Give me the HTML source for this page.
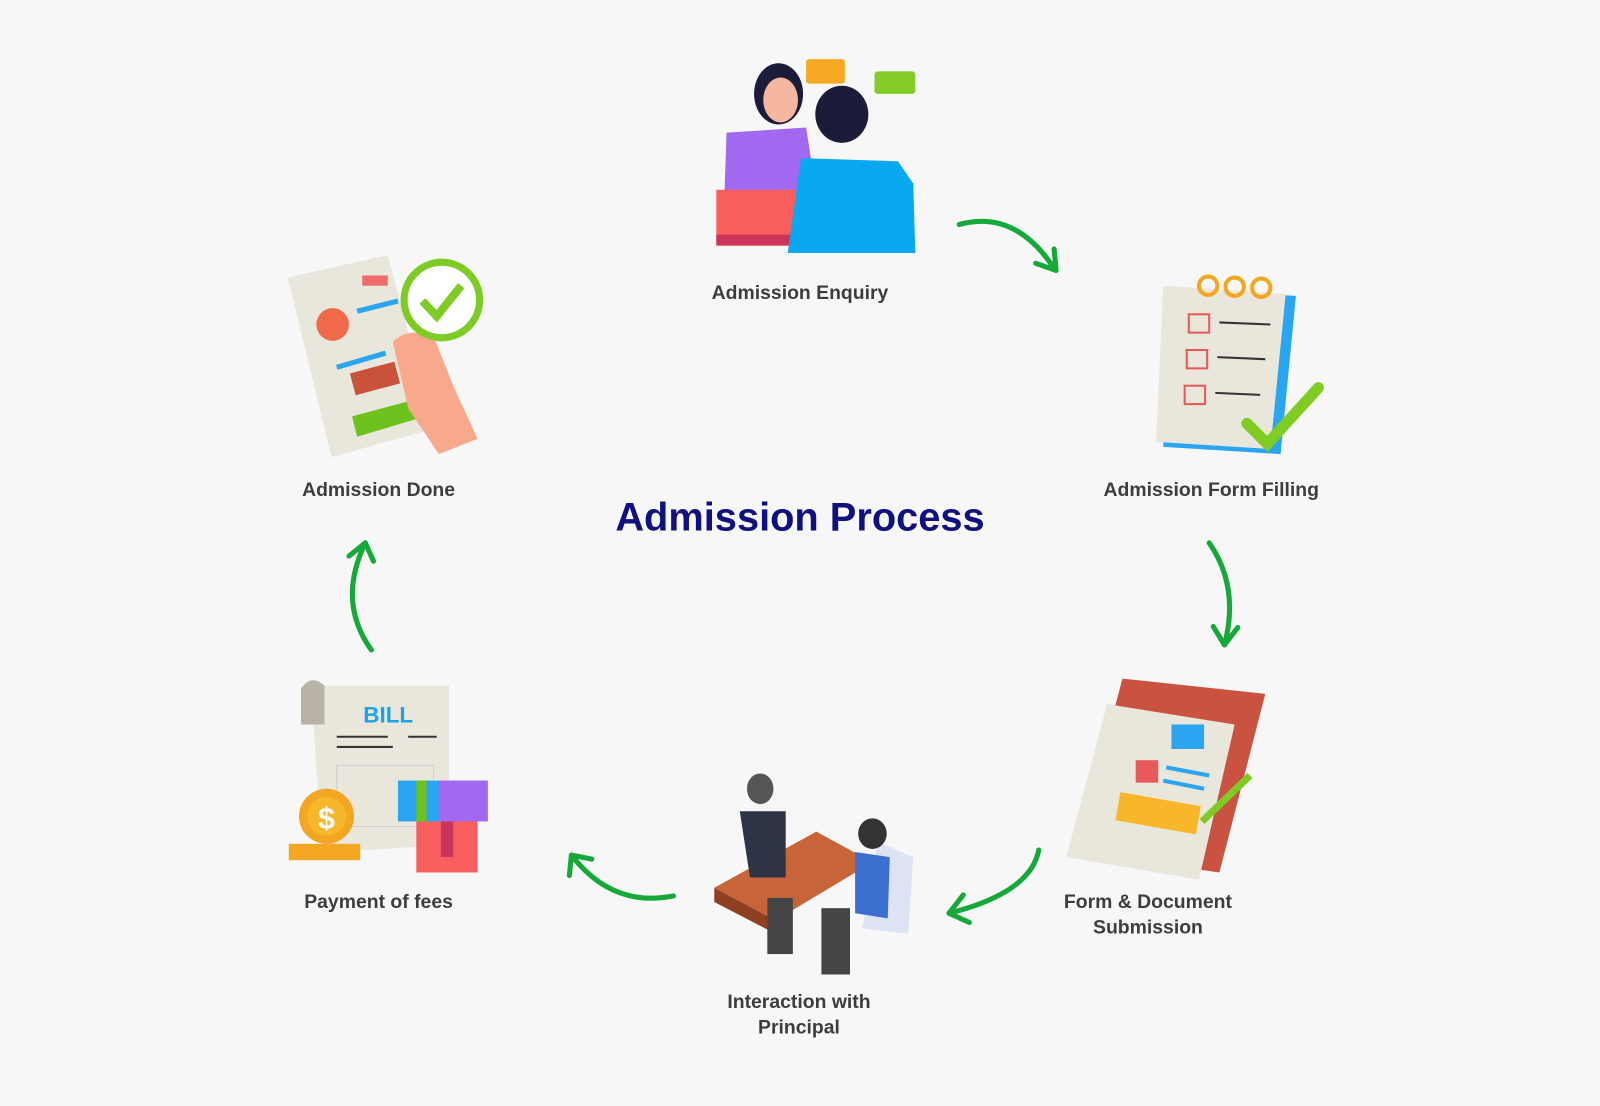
<!DOCTYPE html>
<html><head><meta charset="utf-8"><style>
html,body{margin:0;padding:0;background:#f7f7f7;}
#w{width:1600px;height:1106px;overflow:hidden;background:#f7f7f7;}
#c{position:relative;width:1568px;height:1084px;transform:scale(1.0204);transform-origin:0 0;font-family:"Liberation Sans",sans-serif;}
.l{position:absolute;font-weight:bold;font-size:19px;color:#3d3d3d;text-align:center;line-height:25px;transform:translateX(-50%);white-space:nowrap;}
#t{position:absolute;left:784px;top:486px;transform:translateX(-50%);font-weight:bold;font-size:39px;color:#10107e;white-space:nowrap;}
svg{position:absolute;left:0;top:0;}
</style></head><body><div id="w"><div id="c">
<svg width="1568" height="1084" viewBox="0 0 1568 1084">
<g fill="none" stroke="#17a83a" stroke-width="5" stroke-linecap="round" stroke-linejoin="round">
<path d="M940 220 Q995 205 1033 263"/><path d="M1015 258 L1035 265 L1033 244"/>
<path d="M1185 532 Q1215 575 1200 632"/><path d="M1189 614 L1200 632 L1213 615"/>
<path d="M1018 833 Q1010 875 930 895"/><path d="M944 877 L930 895 L950 904"/>
<path d="M660 878 Q600 890 560 838"/><path d="M558 858 L560 838 L580 842"/>
<path d="M364 637 Q330 590 358 532"/><path d="M342 545 L358 532 L366 550"/>
</g>
<rect x="790" y="58" width="38" height="24" rx="3" fill="#f7a823"/>
<rect x="857" y="70" width="40" height="22" rx="3" fill="#83cc2a"/>
<ellipse cx="763" cy="92" rx="24" ry="30" fill="#1b1b3a"/>
<ellipse cx="765" cy="98" rx="17" ry="22" fill="#f6b7a0"/>
<path d="M712 130 L790 125 L800 190 L710 190 Z" fill="#a368f0"/>
<rect x="702" y="186" width="78" height="55" fill="#f85e5e"/>
<rect x="702" y="230" width="78" height="10" fill="#c9355b"/>
<ellipse cx="825" cy="112" rx="26" ry="28" fill="#1b1b3a"/>
<path d="M785 155 L880 158 L895 180 L897 248 L772 248 Z" fill="#0aa8f0"/>
<path d="M1146 283 L1270 290 L1255 445 L1140 438 Z" fill="#2aa5f0"/>
<path d="M1140 280 L1260 288 L1245 440 L1133 433 Z" fill="#e9e6dc"/>
<circle cx="1184" cy="280" r="9" fill="none" stroke="#f3a622" stroke-width="4"/>
<circle cx="1210" cy="281" r="9" fill="none" stroke="#f3a622" stroke-width="4"/>
<circle cx="1236" cy="282" r="9" fill="none" stroke="#f3a622" stroke-width="4"/>
<g stroke="#e85a5a" stroke-width="2" fill="none"><rect x="1165" y="308" width="20" height="18"/><rect x="1163" y="343" width="20" height="18"/><rect x="1161" y="378" width="20" height="18"/></g>
<g stroke="#333" stroke-width="2"><line x1="1195" y1="316" x2="1245" y2="318"/><line x1="1193" y1="350" x2="1240" y2="352"/><line x1="1191" y1="385" x2="1235" y2="387"/></g>
<path d="M1222 415 L1242 435 L1292 380" fill="none" stroke="#7fcc25" stroke-width="11" stroke-linecap="round"/>
<path d="M282 272 L380 250 L425 420 L325 448 Z" fill="#e9e6dc"/>
<circle cx="326" cy="318" r="16" fill="#f06b4a"/>
<rect x="355" y="270" width="25" height="10" fill="#f06b6b"/>
<g stroke="#2aa5f0" stroke-width="5"><line x1="350" y1="305" x2="390" y2="295"/><line x1="330" y1="360" x2="378" y2="346"/></g>
<path d="M345 408 L405 392 L410 410 L350 428 Z" fill="#6ec21e"/>
<path d="M385 335 Q400 320 425 330 L445 380 L468 430 L430 445 L400 400 Z" fill="#f8a98c"/>
<rect x="345" y="360" width="45" height="22" fill="#c8523a" transform="rotate(-15 367 371)"/>
<circle cx="433" cy="294" r="37" fill="#fff" stroke="#7ecb25" stroke-width="7"/>
<path d="M414 295 L428 310 L452 280" fill="none" stroke="#7ecb25" stroke-width="8"/>
<path d="M1100 665 L1240 680 L1195 855 L1055 835 Z" fill="#c95240"/>
<path d="M1085 690 L1210 710 L1175 862 L1045 840 Z" fill="#e9e6dc"/>
<rect x="1148" y="710" width="32" height="24" fill="#2aa5f0"/>
<rect x="1095" y="783" width="80" height="28" fill="#f8b72a" transform="rotate(10 1135 797)"/>
<rect x="1113" y="745" width="22" height="22" fill="#e85a5a"/>
<g stroke="#2aa5f0" stroke-width="4"><line x1="1143" y1="752" x2="1185" y2="760"/><line x1="1140" y1="765" x2="1180" y2="773"/></g>
<line x1="1178" y1="805" x2="1225" y2="760" stroke="#7ecb25" stroke-width="7"/>
<path d="M700 870 L800 815 L855 845 L760 902 Z" fill="#c8643a"/>
<path d="M700 870 L760 902 L760 915 L700 884 Z" fill="#8f3f22"/>
<ellipse cx="745" cy="773" rx="13" ry="15" fill="#555"/>
<path d="M725 795 L770 795 L770 860 L735 860 Z" fill="#2e3446"/>
<rect x="752" y="880" width="25" height="55" fill="#444"/>
<path d="M860 825 L895 840 L890 915 L845 910 Z" fill="#dde3f4"/>
<ellipse cx="855" cy="817" rx="14" ry="15" fill="#333"/>
<path d="M838 835 L872 840 L870 900 L838 895 Z" fill="#3a6fd0"/>
<rect x="805" y="890" width="28" height="65" fill="#444"/>
<path d="M305 672 L440 672 L440 828 L325 835 L315 828 Z" fill="#e9e6dc"/>
<path d="M295 675 Q305 660 318 672 L318 710 L295 710 Z" fill="#b9b2a6"/>
<text x="356" y="708" font-family="Liberation Sans,sans-serif" font-weight="bold" font-size="22" fill="#1ba3e8">BILL</text>
<g stroke="#333" stroke-width="2"><line x1="330" y1="722" x2="380" y2="722"/><line x1="400" y1="722" x2="428" y2="722"/><line x1="330" y1="732" x2="385" y2="732"/></g>
<rect x="330" y="750" width="95" height="60" fill="none" stroke="#ccc"/>
<rect x="390" y="765" width="88" height="40" fill="#2aa5f0"/>
<rect x="408" y="765" width="10" height="40" fill="#6ec21e"/>
<rect x="430" y="765" width="48" height="40" fill="#a368f0"/>
<rect x="408" y="805" width="60" height="50" fill="#f85e5e"/>
<rect x="432" y="805" width="12" height="35" fill="#c9355b"/>
<rect x="283" y="827" width="70" height="16" fill="#f3a622"/>
<circle cx="320" cy="800" r="27" fill="#f3a622"/>
<circle cx="320" cy="800" r="19" fill="#f8b72a"/>
<text x="320" y="812" text-anchor="middle" font-family="Liberation Sans,sans-serif" font-weight="bold" font-size="30" fill="#fff">$</text>
</svg>
<div id="t">Admission Process</div>
<div class="l" style="left:784px;top:275px">Admission Enquiry</div>
<div class="l" style="left:1187px;top:468px">Admission Form Filling</div>
<div class="l" style="left:371px;top:468px">Admission Done</div>
<div class="l" style="left:371px;top:872px">Payment of fees</div>
<div class="l" style="left:1125px;top:872px">Form &amp; Document<br>Submission</div>
<div class="l" style="left:783px;top:970px">Interaction with<br>Principal</div>
</div></div></body></html>
